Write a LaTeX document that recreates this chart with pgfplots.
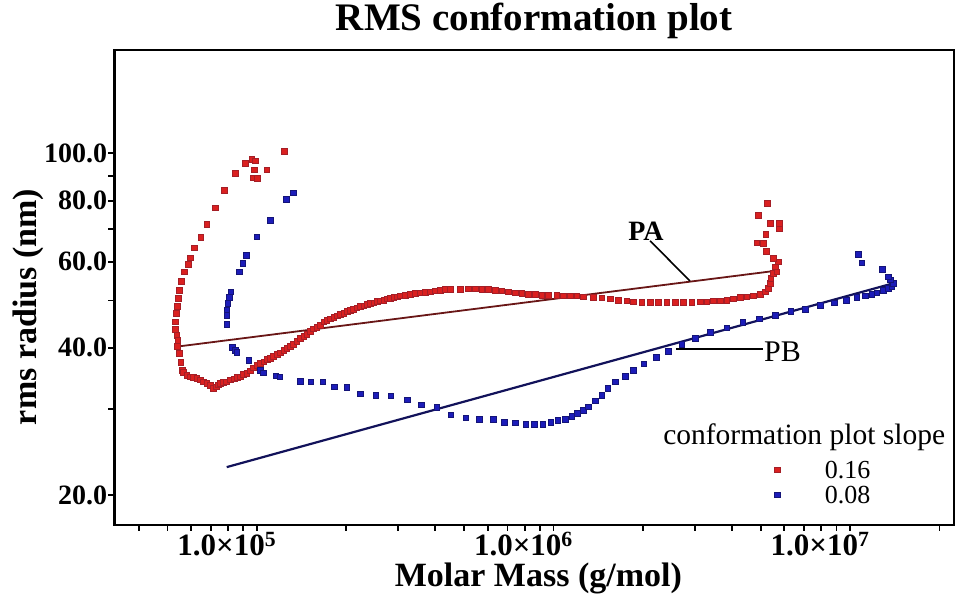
\documentclass[border=0pt]{standalone}
\usepackage{fontspec}
\setmainfont{Liberation Serif}
\usepackage{pgfplots}
\pgfplotsset{compat=1.18}

\definecolor{rmsred}{RGB}{218,32,32}
\definecolor{rmsredline}{RGB}{165,30,38}
\definecolor{rmsblue}{RGB}{28,28,185}
\definecolor{rmsblueline}{RGB}{20,20,120}
\definecolor{pacolor}{RGB}{105,22,22}
\definecolor{pbcolor}{RGB}{18,18,90}

% sample PA: molar mass (g/mol), rms radius (nm)
\pgfplotstableread{
M R
1.236e5 101.1
9.62e4 97.2
9.87e4 96.5
9.13e4 95.4
9.81e4 92.5
1.081e5 92.5
9.74e4 89.2
1.005e5 88.9
8.45e4 91.0
7.78e4 84.1
7.24e4 77.4
6.79e4 71.6
6.48e4 67.3
6.16e4 64.1
5.96e4 61.1
5.86e4 59.3
5.70e4 57.3
5.56e4 54.8
5.47e4 52.5
5.43e4 50.5
5.39e4 48.7
5.35e4 47.1
5.30e4 45.2
5.32e4 43.7
5.37e4 42.5
5.41e4 41.4
5.38e4 40.3
5.48e4 39.0
5.54e4 37.4
5.61e4 36.0
5.66e4 35.7
5.81e4 35.2
5.96e4 34.9
6.10e4 34.8
6.28e4 34.7
6.44e4 34.4
6.59e4 34.1
6.79e4 33.9
6.96e4 33.5
7.14e4 33.1
7.29e4 33.3
7.41e4 33.6
7.52e4 33.9
7.70e4 34.0
7.88e4 34.1
8.13e4 34.4
8.39e4 34.6
8.58e4 34.8
8.79e4 34.9
9.01e4 35.3
9.24e4 35.5
9.49e4 35.9
9.72e4 36.4
1.000e5 36.8
1.026e5 37.2
1.054e5 37.5
1.083e5 37.9
1.109e5 38.1
1.137e5 38.4
1.171e5 38.8
1.198e5 39.1
1.231e5 39.5
1.262e5 39.9
1.295e5 40.3
1.326e5 40.7
1.362e5 41.3
1.399e5 41.8
1.438e5 42.3
1.474e5 42.7
1.512e5 43.3
1.551e5 43.8
1.590e5 44.1
1.634e5 44.5
1.679e5 45.2
1.722e5 45.6
1.766e5 45.9
1.815e5 46.2
1.865e5 46.5
1.909e5 46.8
1.961e5 47.1
2.015e5 47.5
2.063e5 47.8
2.117e5 48.0
2.170e5 48.3
2.229e5 48.6
2.291e5 48.8
2.354e5 49.1
2.409e5 49.3
2.475e5 49.5
2.543e5 49.8
2.603e5 49.9
2.675e5 50.1
2.749e5 50.4
2.813e5 50.5
2.891e5 50.7
2.970e5 50.9
3.041e5 51.1
3.161e5 51.3
3.286e5 51.5
3.416e5 51.7
3.550e5 51.9
3.691e5 52.0
3.837e5 52.1
3.990e5 52.3
4.148e5 52.5
4.312e5 52.7
4.483e5 52.7
4.844e5 52.7
5.167e5 52.8
5.442e5 52.8
5.732e5 52.7
6.034e5 52.7
6.357e5 52.5
6.696e5 52.3
7.047e5 52.1
7.423e5 51.9
7.819e5 51.7
8.231e5 51.5
8.670e5 51.5
9.133e5 51.3
9.612e5 51.3
1.026e6 51.2
1.080e6 51.1
1.138e6 51.1
1.198e6 51.1
1.261e6 50.9
1.363e6 50.8
1.455e6 50.6
1.552e6 50.4
1.655e6 50.1
1.766e6 49.9
1.859e6 49.7
1.984e6 49.6
2.117e6 49.6
2.258e6 49.6
2.409e6 49.6
2.570e6 49.6
2.741e6 49.6
2.925e6 49.6
3.120e6 49.7
3.287e6 49.7
3.459e6 49.9
3.643e6 49.9
3.838e6 50.1
4.040e6 50.4
4.256e6 50.7
4.483e6 50.9
4.718e6 51.1
4.970e6 51.5
5.167e6 52.1
5.301e6 52.9
5.370e6 54.2
5.400e6 55.5
5.510e6 56.8
5.657e6 57.3
5.584e6 58.6
5.728e6 60.0
5.510e6 61.0
5.207e6 63.1
5.099e6 65.5
4.844e6 65.6
5.195e6 68.3
5.760e6 70.3
5.760e6 71.9
5.370e6 71.9
4.905e6 74.8
5.260e6 79.0
}\sampleA

% sample PB: molar mass (g/mol), rms radius (nm)
\pgfplotstableread{
M R
1.329e5 83.1
1.255e5 80.5
1.109e5 73.0
1.000e5 67.5
9.20e4 61.9
8.97e4 59.6
8.74e4 57.3
8.17e4 52.1
8.08e4 50.8
7.98e4 49.3
7.92e4 47.8
7.92e4 46.7
7.92e4 44.7
8.26e4 40.1
8.45e4 39.6
8.56e4 39.2
9.38e4 37.7
1.026e5 36.0
1.052e5 35.6
1.157e5 35.1
1.194e5 34.9
1.399e5 34.2
1.518e5 34.1
1.669e5 34.1
1.822e5 33.3
2.011e5 33.2
2.229e5 32.2
2.518e5 32.0
2.829e5 31.9
3.218e5 31.3
3.579e5 30.6
4.044e5 30.2
4.507e5 29.2
5.063e5 28.8
5.627e5 28.6
6.272e5 28.6
6.833e5 28.2
7.423e5 28.1
8.066e5 27.9
8.601e5 27.9
9.203e5 27.9
9.792e5 28.2
1.034e6 28.4
1.094e6 28.6
1.153e6 29.0
1.204e6 29.4
1.261e6 29.8
1.311e6 30.3
1.381e6 31.2
1.455e6 32.0
1.522e6 33.1
1.613e6 34.1
1.743e6 35.0
1.859e6 36.0
2.012e6 37.1
2.221e6 38.3
2.440e6 39.4
2.706e6 40.7
3.001e6 41.9
3.372e6 43.0
3.838e6 44.0
4.350e6 45.1
4.932e6 45.9
5.594e6 46.7
6.307e6 47.5
7.047e6 48.0
7.916e6 48.9
8.848e6 49.5
9.687e6 50.1
1.052e7 50.7
1.122e7 51.1
1.183e7 51.5
1.229e7 51.9
1.294e7 52.5
1.345e7 52.9
1.381e7 53.4
1.398e7 54.2
1.363e7 55.1
1.345e7 55.9
1.284e7 58.0
1.094e7 59.7
1.066e7 62.2
}\sampleB

\begin{document}
\begin{tikzpicture}
\useasboundingbox (0,0) rectangle (956pt,596pt);
\begin{axis}[
  at={(114.3pt,71pt)}, anchor=south west,
  scale only axis, width=839.7pt, height=475pt,
  xmode=log, ymode=log,
  xmin=3.31e4, xmax=2.24e7, ymin=17.36, ymax=162.7,
  axis line style={line width=2.5pt},
  xtick pos=bottom, ytick pos=left,
  tick align=outside,
  major tick length=6pt, minor tick length=6pt,
  every tick/.style={black, line width=1.8pt},
  minor tick style={black, line width=1.8pt},
  xtick={1e5,1e6,1e7},
  xticklabels={1.0×10\textsuperscript{5},1.0×10\textsuperscript{6},1.0×10\textsuperscript{7}},
  minor xtick={4e4,5e4,6e4,7e4,8e4,9e4,2e5,3e5,4e5,5e5,6e5,7e5,8e5,9e5,2e6,3e6,4e6,5e6,6e6,7e6,8e6,9e6,2e7},
  ytick={20,40,60,80,100},
  yticklabels={20.0,40.0,60.0,80.0,100.0},
  minor ytick={30,50,70,90},
  xticklabel style={font=\bfseries\fontsize{31}{31}\selectfont, inner sep=1pt, xshift=-30pt},
  yticklabel style={font=\bfseries\fontsize{28}{28}\selectfont, inner sep=1pt},
  title={RMS conformation plot},
  title style={at={(axis description cs:0.5,1)}, anchor=base, yshift=13pt,
    font=\bfseries\fontsize{39}{39}\selectfont},
  xlabel={Molar Mass (g/mol)},
  xlabel style={at={(axis description cs:0.505,0)}, anchor=base, yshift=-62pt,
    font=\bfseries\fontsize{34}{34}\selectfont},
  ylabel={rms radius (nm)},
  ylabel style={at={(axis description cs:-0.0921,0.459)}, anchor=base, rotate=0,
    font=\bfseries\fontsize{34}{34}\selectfont},
  legend style={draw=none, fill=none, inner sep=0pt, outer sep=0pt,
    at={(axis description cs:0.7859,0.1347)}, anchor=north west,
    font=\fontsize{26}{26}\selectfont,
    nodes={inner sep=0pt, text height=17pt, text depth=0pt},
    row sep=8pt,
    /tikz/every odd column/.append style={column sep=45pt}},
  legend cell align=left,
  legend image code/.code={\draw[#1] plot coordinates {(0pt,0pt)};},
]
% fitted conformation lines
\addplot[pacolor, line width=1.8pt, forget plot] coordinates {(5.35e4,40.2) (5.498e6,57.4)};
\addplot[pbcolor, line width=2.2pt, forget plot] coordinates {(7.92e4,22.8) (1.398e7,54.2)};
% measured points
\addplot[only marks, mark=square*, mark size=2.8pt,
  mark options={fill=rmsred, draw=rmsredline, line width=0.4pt}] table[x=M, y=R] {\sampleA};
\addlegendentry{0.16}
\addplot[only marks, mark=square*, mark size=2.8pt,
  mark options={fill=rmsblue, draw=rmsblueline, line width=0.4pt}] table[x=M, y=R] {\sampleB};
\addlegendentry{0.08}
% annotations
\draw[black, line width=1.6pt] (axis cs:2.117e6,66.2) -- (axis cs:2.886e6,54.8);
\node[font=\bfseries\fontsize{28}{28}\selectfont, inner sep=0pt] at (axis cs:2.051e6,69.3) {PA};
\draw[black, line width=1.6pt] (axis cs:2.589e6,39.8) -- (axis cs:5.087e6,39.8);
\node[anchor=west, inner sep=1pt, yshift=-3pt, font=\fontsize{30}{30}\selectfont] at (axis cs:5.087e6,39.8) {PB};
\node[anchor=base west, inner sep=0pt, font=\fontsize{29.5}{29.5}\selectfont] at (axis description cs:0.6535,0.1684) {conformation plot slope};
\end{axis}
\end{tikzpicture}
\end{document}
